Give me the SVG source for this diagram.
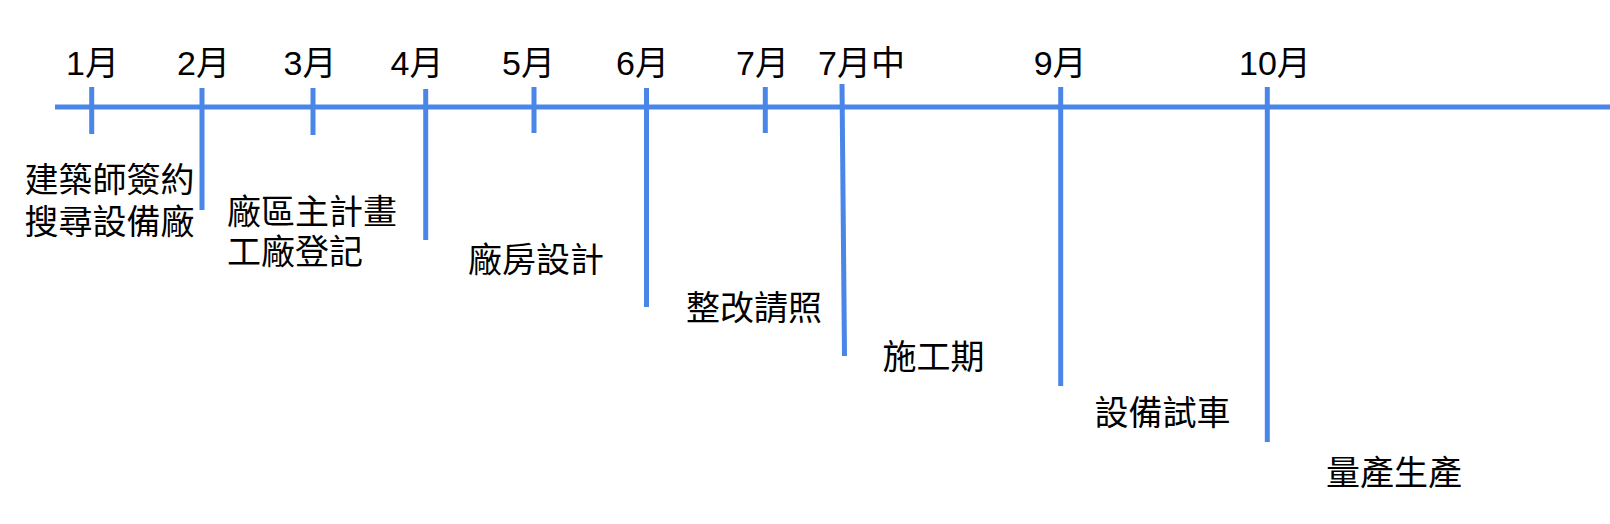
<svg xmlns="http://www.w3.org/2000/svg" width="1610" height="524" viewBox="0 0 1610 524">
  <style>
    .ax { stroke: #4a86e8; stroke-width: 5; fill: none; stroke-linecap: butt; }
    .t { font-family: "Liberation Sans", "Noto Sans CJK TC", sans-serif; font-size: 34px; fill: #000; }
  </style>
  <rect width="1610" height="524" fill="#ffffff"/>
  <g id="connectors">
    <line class="ax" x1="55" y1="107" x2="1610" y2="107"/>
    <line class="ax" x1="91.7" y1="87" x2="91.7" y2="134"/>
    <line class="ax" x1="202" y1="88" x2="202" y2="210"/>
    <line class="ax" x1="313" y1="88" x2="313" y2="135"/>
    <line class="ax" x1="425.7" y1="89" x2="425.7" y2="240"/>
    <line class="ax" x1="534" y1="87" x2="534" y2="133"/>
    <line class="ax" x1="646.5" y1="88" x2="646.5" y2="307"/>
    <line class="ax" x1="765.3" y1="87" x2="765.3" y2="133"/>
    <line class="ax" x1="842" y1="84" x2="844.5" y2="356"/>
    <line class="ax" x1="1060.7" y1="87" x2="1060.7" y2="386"/>
    <line class="ax" x1="1267.3" y1="87" x2="1267.3" y2="442"/>
  </g>
  <g id="m1"><text class="t" x="66" y="75">1月</text></g>
  <g id="m2"><text class="t" x="177" y="75">2月</text></g>
  <g id="m3"><text class="t" x="283.6" y="75">3月</text></g>
  <g id="m4"><text class="t" x="390.5" y="75">4月</text></g>
  <g id="m5"><text class="t" x="502" y="75">5月</text></g>
  <g id="m6"><text class="t" x="616" y="75">6月</text></g>
  <g id="m7"><text class="t" x="736" y="75">7月</text></g>
  <g id="m7mid"><text class="t" x="818" y="75">7月中</text></g>
  <g id="m9"><text class="t" x="1033.7" y="75">9月</text></g>
  <g id="m10"><text class="t" x="1239" y="75">10月</text></g>
  <g id="task1">
    <text class="t" x="24.5" y="192">建築師簽約</text>
    <text class="t" x="24.5" y="234">搜尋設備廠</text>
  </g>
  <g id="task2">
    <text class="t" x="227" y="224">廠區主計畫</text>
    <text class="t" x="227" y="264">工廠登記</text>
  </g>
  <g id="task3"><text class="t" x="468" y="272">廠房設計</text></g>
  <g id="task4"><text class="t" x="686" y="320">整改請照</text></g>
  <g id="task5"><text class="t" x="882.5" y="369">施工期</text></g>
  <g id="task6"><text class="t" x="1094.5" y="425">設備試車</text></g>
  <g id="task7"><text class="t" x="1326" y="485">量產生產</text></g>
</svg>
